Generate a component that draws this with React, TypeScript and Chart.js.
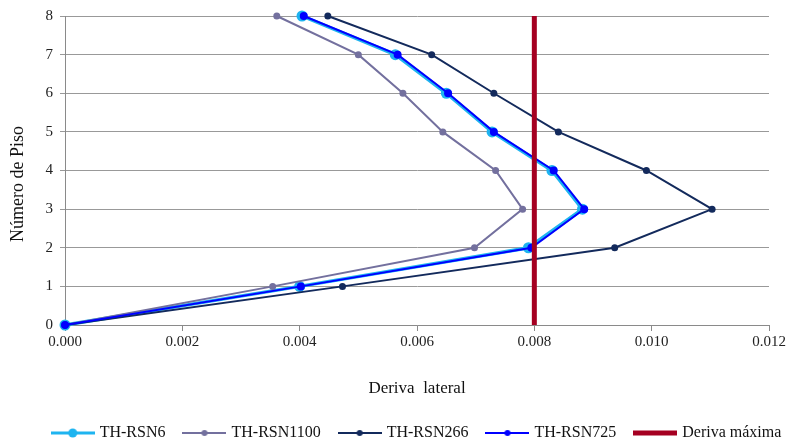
import React, { useEffect, useRef } from "react";
import { Chart, registerables } from "chart.js";

Chart.register(...registerables);

const floors = [0, 1, 2, 3, 4, 5, 6, 7, 8];
const rsn6 = [0, 0.0040, 0.00790, 0.00882, 0.00830, 0.00728, 0.00650, 0.00563, 0.00404];
const rsn1100 = [0, 0.00354, 0.00698, 0.00780, 0.00734, 0.00644, 0.00576, 0.00500, 0.00361];
const rsn266 = [0, 0.00473, 0.00937, 0.01103, 0.00991, 0.00841, 0.00731, 0.00625, 0.00448];
const rsn725 = [0, 0.00402, 0.00795, 0.00885, 0.00833, 0.00731, 0.00653, 0.00567, 0.00407];
const derivaMaxX = [0.008, 0.008];
const derivaMaxY = [0, 8];
const seriesNames = ["TH-RSN6", "TH-RSN1100", "TH-RSN266", "TH-RSN725", "Deriva máxima"];
const xTicks = [0, 0.002, 0.004, 0.006, 0.008, 0.01, 0.012];

const FONT = "'Liberation Serif', 'Times New Roman', serif";

function legendImage(color: string, lw: number, r: number): HTMLCanvasElement {
  const c = document.createElement("canvas");
  c.width = 44;
  c.height = 12;
  const ctx = c.getContext("2d")!;
  ctx.strokeStyle = color;
  ctx.lineWidth = lw;
  ctx.beginPath();
  ctx.moveTo(0, 6);
  ctx.lineTo(44, 6);
  ctx.stroke();
  if (r > 0) {
    ctx.fillStyle = color;
    ctx.beginPath();
    ctx.arc(22, 6, r, 0, Math.PI * 2);
    ctx.fill();
  }
  return c;
}

const toPts = (xs: number[], ys: number[]) => xs.map((x, i) => ({ x, y: ys[i] }));

const legendShift = {
  id: "legendShift",
  afterLayout(chart: any) {
    const l = chart.legend;
    if (l) {
      l.left += 33;
      l.right += 33;
    }
  },
};

export default function App() {
  const ref = useRef<HTMLCanvasElement | null>(null);
  useEffect(() => {
    if (!ref.current) return;
    const colors = ["#1EB4F0", "#73709E", "#132A5C", "#0000FF", "#A50021"];
    const images = [
      legendImage(colors[0], 3, 4.5),
      legendImage(colors[1], 2, 3),
      legendImage(colors[2], 2, 3),
      legendImage(colors[3], 2, 3),
      legendImage(colors[4], 5, 0),
    ];
    const chart = new Chart(ref.current, {
      type: "scatter",
      plugins: [legendShift],
      data: {
        datasets: [
          {
            label: seriesNames[0],
            data: toPts(rsn6, floors),
            showLine: true,
            borderColor: colors[0],
            backgroundColor: colors[0],
            borderWidth: 3.5,
            pointRadius: 5.5,
            pointBorderWidth: 0,
            order: 4,
            clip: false as any,
          },
          {
            label: seriesNames[1],
            data: toPts(rsn1100, floors),
            showLine: true,
            borderColor: colors[1],
            backgroundColor: colors[1],
            borderWidth: 2,
            pointRadius: 3.5,
            pointBorderWidth: 0,
            order: 3,
            clip: false as any,
          },
          {
            label: seriesNames[2],
            data: toPts(rsn266, floors),
            showLine: true,
            borderColor: colors[2],
            backgroundColor: colors[2],
            borderWidth: 2,
            pointRadius: 3.5,
            pointBorderWidth: 0,
            order: 2,
            clip: false as any,
          },
          {
            label: seriesNames[3],
            data: toPts(rsn725, floors),
            showLine: true,
            borderColor: colors[3],
            backgroundColor: colors[3],
            borderWidth: 2,
            pointRadius: 4,
            pointBorderWidth: 0,
            order: 1,
            clip: false as any,
          },
          {
            label: seriesNames[4],
            data: toPts(derivaMaxX, derivaMaxY),
            showLine: true,
            borderColor: colors[4],
            backgroundColor: colors[4],
            borderWidth: 5,
            pointRadius: 0,
            order: 0,
            clip: false as any,
          },
        ],
      },
      options: {
        responsive: false,
        animation: false,
        devicePixelRatio: 1,
        layout: { padding: { top: 11, right: 20, left: 0, bottom: 0 } },
        plugins: {
          tooltip: { enabled: false },
          legend: {
            position: "bottom",
            maxHeight: 40,
            labels: {
              usePointStyle: true,
              pointStyleWidth: 38,
              padding: 20,
              color: "#111",
              font: { family: FONT, size: 16 },
              generateLabels: (ch: any) => {
                const items = Chart.defaults.plugins.legend.labels.generateLabels(ch);
                items.sort((a: any, b: any) => a.datasetIndex - b.datasetIndex);
                return items.map((it: any) => ({ ...it, pointStyle: images[it.datasetIndex] }));
              },
            },
          },
        },
        scales: {
          x: {
            type: "linear",
            min: 0,
            max: 0.012,
            afterBuildTicks: (s: any) => {
              s.ticks = xTicks.map((v) => ({ value: v }));
            },
            afterFit: (s: any) => {
              s.height = 80;
            },
            ticks: {
              padding: 2,
              color: "#222",
              font: { family: FONT, size: 15 },
              callback: (v: any) => Number(v).toFixed(3),
            },
            grid: {
              drawOnChartArea: false,
              drawTicks: true,
              tickLength: 6,
              color: "#8a8a8a",
            },
            border: { color: "#8a8a8a", width: 1 },
            title: {
              display: true,
              text: "Deriva  lateral",
              color: "#111",
              font: { family: FONT, size: 17 },
              padding: { top: 0, bottom: 6 },
            },
          },
          y: {
            type: "linear",
            min: 0,
            max: 8,
            afterFit: (s: any) => {
              s.width = 65;
            },
            ticks: {
              stepSize: 1,
              padding: 7,
              color: "#222",
              font: { family: FONT, size: 15 },
            },
            grid: {
              drawTicks: true,
              tickLength: 5,
              color: "#999999",
              lineWidth: 1,
            },
            border: { color: "#8a8a8a", width: 1 },
            title: {
              display: true,
              text: "Número de Piso      ",
              color: "#111",
              font: { family: FONT, size: 18 },
              padding: { top: 7, bottom: 0 },
            },
          },
        },
      },
    } as any);
    return () => chart.destroy();
  }, []);
  return (
    <div style={{ position: "absolute", left: 0, top: 0, width: 789, height: 445, background: "#fff" }}>
      <canvas ref={ref} width={789} height={445} style={{ display: "block", width: 789, height: 445 }} />
    </div>
  );
}
